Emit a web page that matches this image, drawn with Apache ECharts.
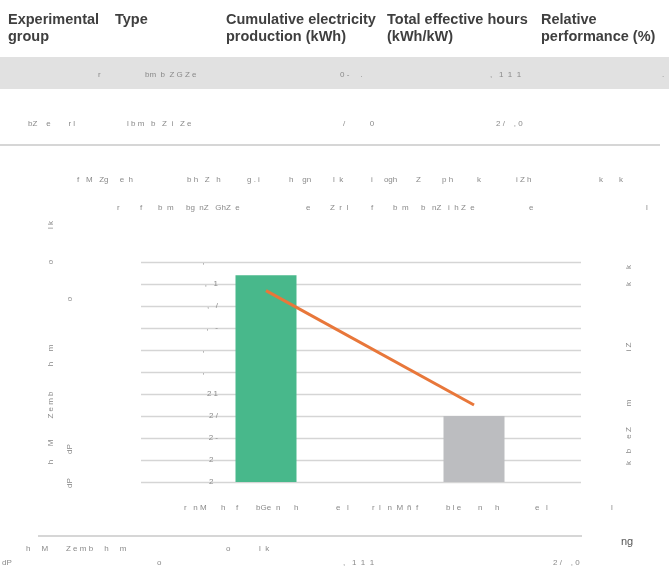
<!DOCTYPE html>
<html>
<head>
<meta charset="utf-8">
<script src="https://cdn.jsdelivr.net/npm/echarts@6/dist/echarts.min.js"></script>
<style>html,body{margin:0;padding:0;background:#fff}#c{width:669px;height:574px}</style>
</head>
<body>
<div id="c"></div>
<script>
// ---- data ----
const categories = ['r nM h f bGe n h e l', 'rl nM ñ f ble n h e l'];
const barValues = [10.88, 9.60];
const lineValues = [98.7, 93.5];
const yMin = 9, yMax = 11, yStep = 0.2;
const yTickLabels = ['2  ', '2  ', '2 -', '2 /', '2 1', ',      ', ',      ', ',   -', ',   /', ',   1', ',      '];
const headerLabels = ['Experimental\ngroup', 'Type', 'Cumulative electricity\nproduction (kWh)', 'Total effective hours\n(kWh/kW)', 'Relative\nperformance (%)'];

// ---- styles ----
const barColors = ['#48B88B', '#BCBDC0'];
const lineColor = '#E8773A';
const faint = '#8a8a8a';
const gfont = '8px "Liberation Sans"';

function seg(x, y, t, extra) {
  return Object.assign({type: 'text', x: x, y: y, silent: true,
    style: {text: t, fill: faint, font: gfont, align: 'left', verticalAlign: 'middle'}}, extra || {});
}
function vseg(x, y, t) {
  return {type: 'text', x: x, y: y, rotation: Math.PI / 2, silent: true,
    style: {text: t, fill: faint, font: gfont, align: 'center', verticalAlign: 'middle'}};
}

const headerX = [8, 115, 226, 387, 541];
const graphics = [];
// table background and rules
graphics.push({type: 'rect', shape: {x: 0, y: 57, width: 669, height: 32}, style: {fill: '#e1e1e1'}, silent: true, z: -1});
graphics.push({type: 'line', shape: {x1: 0, y1: 145, x2: 660, y2: 145}, style: {stroke: '#d6d6d6', lineWidth: 2}, silent: true});
graphics.push({type: 'line', shape: {x1: 38, y1: 536, x2: 582, y2: 536}, style: {stroke: '#d6d6d6', lineWidth: 2}, silent: true});
headerLabels.forEach((h, i) => graphics.push({type: 'text', x: headerX[i], y: 11, silent: true,
  style: {text: h, fill: '#3f3f3f', font: 'bold 14.5px "Liberation Sans"', lineHeight: 17, align: 'left', verticalAlign: 'top'}}));

// table rows
[[98, 'r'], [145, 'bm  b  Z G Z e'], [340, '0 -     .'], [490, ',   1  1  1'], [662, '.']].forEach(s => graphics.push(seg(s[0], 75, s[1])));
[[28, 'bZ    e        r l'], [127, 'l b m   b   Z  i   Z e'], [343, '/           0'], [496, '2 /    , 0']].forEach(s => graphics.push(seg(s[0], 124, s[1])));

// title and legend lines
[[77, 'f   M   Zg     e  h'], [187, 'b h   Z   h'], [247, 'g . i'], [289, 'h    gn'], [333, 'l  k'],
 [371, 'i     ogh'], [416, 'Z'], [442, 'p h'], [477, 'k'], [516, 'i Z h'], [599, 'k'], [619, 'k']].forEach(s => graphics.push(seg(s[0], 180, s[1])));
[[117, 'r'], [140, 'f'], [158, 'b  m'], [186, 'bg  nZ   GhZ  e'], [306, 'e'], [330, 'Z  r  l'],
 [371, 'f'], [393, 'b  m'], [421, 'b   nZ   i  h Z  e'], [529, 'e'], [646, 'l']].forEach(s => graphics.push(seg(s[0], 208, s[1])));

// x-axis label line
[[184, 'r   n M'], [221, 'h'], [236, 'f'], [256, 'bGe'], [276, 'n'], [294, 'h'], [336, 'e   l'],
 [372, 'r  l   n  M'], [407, 'ñ'], [416, 'f'], [446, 'b l e'], [478, 'n'], [495, 'h'], [535, 'e   l'], [611, 'l']].forEach(s => graphics.push(seg(s[0], 508, s[1])));

// bottom lines
[[26, 'h     M        Z e m b     h     m'], [226, 'o'], [259, 'l  k']].forEach(s => graphics.push(seg(s[0], 549, s[1])));
[[2, 'dP'], [157, 'o'], [343, ',   1  1  1'], [553, '2 /    , 0']].forEach(s => graphics.push(seg(s[0], 563, s[1])));
graphics.push(seg(621, 542, 'ng', {style: {text: 'ng', fill: '#555', font: '11px "Liberation Sans"', align: 'left', verticalAlign: 'middle'}}));

// rotated axis names
[[462, 'h'], [443, 'M'], [405, 'Z e m b'], [364, 'h'], [348, 'm'], [262, 'o'], [225, 'l k']].forEach(s => graphics.push(vseg(51, s[0], s[1])));
[[483, 'dP'], [449, 'dP'], [299, 'o']].forEach(s => graphics.push(vseg(70, s[0], s[1])));
[[463, 'k'], [451, 'b'], [433, 'e Z'], [403, 'm'], [347, 'i Z'], [284, 'k'], [267, 'k']].forEach(s => graphics.push(vseg(629, s[0], s[1])));

const chart = echarts.init(document.getElementById('c'), null, {renderer: 'canvas'});
chart.setOption({
  animation: false,
  backgroundColor: '#ffffff',
  grid: [
    {left: 141, width: 440, top: 262, height: 220, containLabel: false},
    {left: 162, width: 416, top: 262, height: 220, containLabel: false}
  ],
  xAxis: [
    {gridIndex: 0, type: 'category', data: categories, axisLine: {show: false}, axisTick: {show: false}, axisLabel: {show: false}},
    {gridIndex: 1, type: 'category', data: categories, boundaryGap: true, axisLine: {show: false}, axisTick: {show: false}, axisLabel: {show: false}}
  ],
  yAxis: [
    {
      gridIndex: 0, type: 'value', min: yMin, max: yMax, interval: yStep,
      axisLine: {show: false}, axisTick: {show: false},
      splitLine: {lineStyle: {color: '#d5d5d5', width: 1.4}},
      axisLabel: {
        margin: -77, color: faint, fontSize: 8, fontFamily: 'Liberation Sans', padding: [10, 0, 0, 0],
        formatter: v => { const i = Math.round((v - yMin) / yStep); return yTickLabels[i] || ''; }
      }
    },
    {
      gridIndex: 1, type: 'value', min: yMin, max: yMax, interval: yStep,
      axisLine: {show: false}, axisTick: {show: false}, axisLabel: {show: false}, splitLine: {show: false}
    },
    {
      gridIndex: 1, type: 'value', position: 'right', min: 90, max: 100, interval: 1,
      axisLine: {show: false}, axisTick: {show: false}, axisLabel: {show: false}, splitLine: {show: false}
    }
  ],
  series: [
    {
      type: 'bar', barWidth: 61, xAxisIndex: 1, yAxisIndex: 1,
      data: barValues.map((v, i) => ({value: v, itemStyle: {color: barColors[i]}}))
    },
    {
      type: 'line', xAxisIndex: 1, yAxisIndex: 2, data: lineValues, symbol: 'none',
      lineStyle: {color: lineColor, width: 3}, itemStyle: {color: lineColor}, z: 5
    }
  ],
  graphic: graphics
});
</script>
</body>
</html>
